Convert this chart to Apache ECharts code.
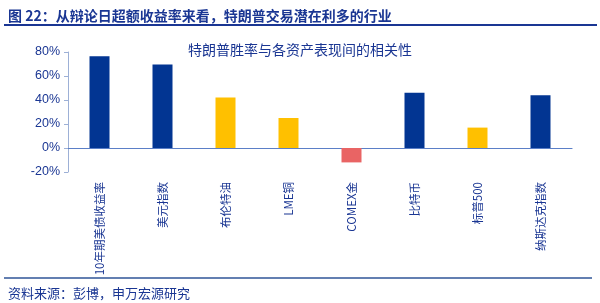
<!DOCTYPE html>
<html><head><meta charset="utf-8">
<script src="https://cdn.jsdelivr.net/npm/echarts@6/dist/echarts.min.js"></script>
<style>html,body{margin:0;padding:0;background:#fff}#c{width:600px;height:303px}</style>
</head><body><div id="c"></div>
<script>
const categories = ['10年期美债收益率','美元指数','布伦特油','LME铜','COMEX金','比特币','标普500','纳斯达克指数'];
const values = [76.5, 69.5, 42, 25, -12, 46, 17, 44];
const barColors = ['#023592','#023592','#FFC000','#FFC000','#E96464','#023592','#FFC000','#023592'];
const yTicks = [-20, 0, 20, 40, 60, 80];

const chart = echarts.init(document.getElementById('c'), null, {renderer:'canvas'});
const font = '"Noto Sans CJK SC", "Liberation Sans", sans-serif';
chart.setOption({
  animation:false,
  title:[
    {text:'图 22：从辩论日超额收益率来看，特朗普交易潜在利多的行业', left:3, top:4,
     textStyle:{fontSize:14, fontWeight:'bold', color:'#1A3693', fontFamily:font}},
    {text:'特朗普胜率与各资产表现间的相关性', left:'center', top:38,
     textStyle:{fontSize:14, fontWeight:'normal', color:'#1A3693', fontFamily:font}},
    {text:'资料来源：彭博，申万宏源研究', left:3, top:282,
     textStyle:{fontSize:13, fontWeight:'normal', color:'#1A3693', fontFamily:font}}
  ],
  graphic:[
    {type:'line', shape:{x1:4,y1:25,x2:597,y2:25}, style:{stroke:'#1A3693', lineWidth:2}},
    {type:'line', shape:{x1:4,y1:278,x2:592,y2:278}, style:{stroke:'#2F5597', lineWidth:1.5}}
  ],
  grid:{left:68, right:28, top:52, bottom:131},
  xAxis:{type:'category', data:categories,
    axisLine:{onZero:true, lineStyle:{color:'#5B7FC7', width:1.2}},
    axisTick:{show:false},
    axisLabel:{rotate:90, interval:0, color:'#1A3693', fontSize:11.5, fontFamily:font, margin:10}
  },
  yAxis:{type:'value', min:-20, max:80, interval:20,
    axisLine:{show:true, lineStyle:{color:'#9DB0D6'}},
    axisTick:{show:true, inside:false, length:4, lineStyle:{color:'#9DB0D6'}},
    splitLine:{show:false},
    axisLabel:{formatter:'{value}%', color:'#1A3693', fontSize:12.5, fontFamily:'"Liberation Sans", Arial, sans-serif', margin:8}
  },
  series:[{type:'bar', barWidth:20,
    data:values.map((v,i)=>({value:v, itemStyle:{color:barColors[i]}}))}]
});
</script></body></html>
